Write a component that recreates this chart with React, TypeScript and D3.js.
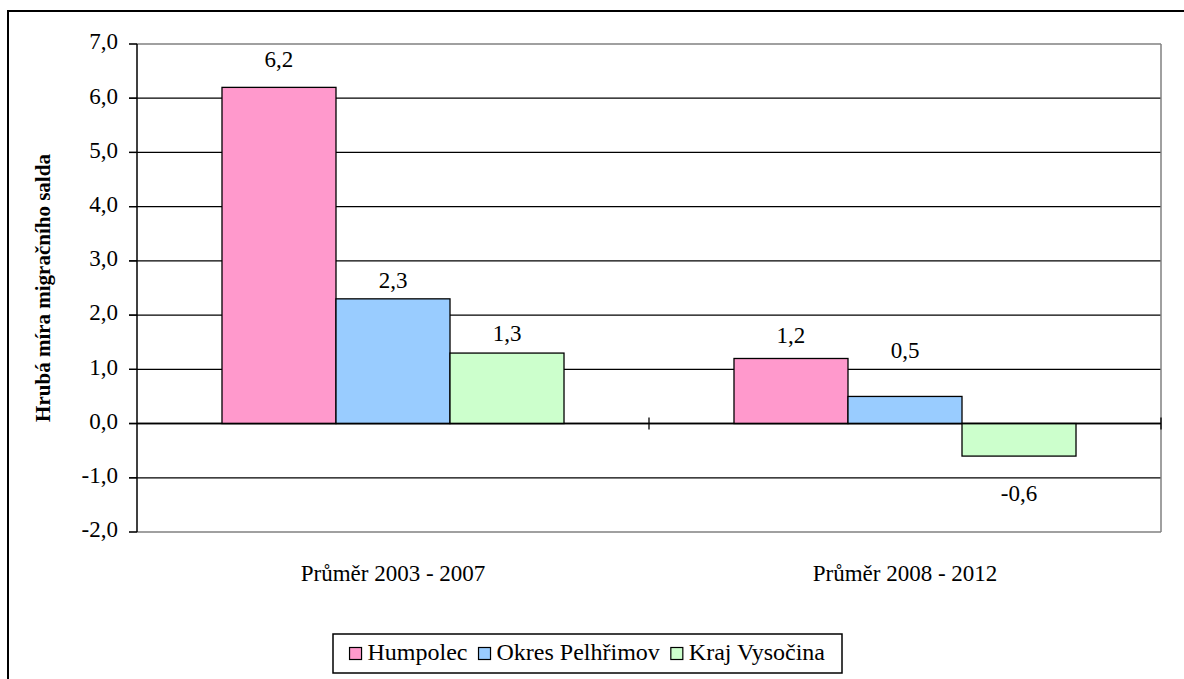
import React from "react";
import * as d3 from "d3";

const categories = ["Průměr 2003 - 2007", "Průměr 2008 - 2012"];
const seriesNames = ["Humpolec", "Okres Pelhřimov", "Kraj Vysočina"];
const humpolec = [6.2, 1.2];
const pelhrimov = [2.3, 0.5];
const vysocina = [1.3, -0.6];
const yTicks = [-2, -1, 0, 1, 2, 3, 4, 5, 6, 7];
const colors = ["#FF99CC", "#99CCFF", "#CCFFCC"];
// label offsets (px from bar end) as positioned in the original
const labelDy = [
  [26, 21],
  [16, 44],
  [17, 40],
];

const FONT = '"Liberation Serif", "Times New Roman", serif';

function measure(text: string, size: number, weight = "normal") {
  const c = document.createElement("canvas").getContext("2d")!;
  c.font = `${weight} ${size}px "Liberation Serif"`;
  return c.measureText(text).width;
}

export default function App() {
  const W = 1184, H = 679;
  const left = 137, right = 1161, top = 44, bottom = 532;
  const series = [humpolec, pelhrimov, vysocina];
  const y = d3.scaleLinear().domain([-2, 7]).range([bottom, top]);
  const x0 = d3.scaleBand<string>().domain(categories).range([left, right]);
  const bw = x0.bandwidth();
  const pad = bw * 0.166;
  const x1 = d3.scaleBand<string>().domain(seriesNames).range([pad, bw - pad]);
  const fmt = (v: number) => d3.format(".1f")(v).replace(".", ",").replace("−", "-");

  const legFont = 24;
  const box = { x: 333, y: 634, w: 509, h: 39 };
  const mk = 12, mkGap = 6, entryGap = 11;
  const widths = seriesNames.map((n) => measure(n, legFont));
  const total = widths.reduce((a, b) => a + b, 0) + seriesNames.length * (mk + mkGap) + (seriesNames.length - 1) * entryGap;
  let cx = box.x + (box.w - total) / 2;
  const legendPos = widths.map((w) => {
    const p = cx;
    cx += mk + mkGap + w + entryGap;
    return p;
  });

  const ts: React.CSSProperties = { fontFamily: FONT };

  return (
    <svg width={W} height={H} style={{ position: "absolute", left: 0, top: 0, background: "#fff", fontFamily: FONT }}>
      <rect x={8} y={11} width={1200} height={700} fill="#fff" stroke="#000" strokeWidth={2} />
      {yTicks.map((t) => (
        <line key={t} x1={left - 8} x2={right} y1={y(t)} y2={y(t)}
          stroke={t === 7 || t === -2 ? "#808080" : "#000"} strokeWidth={t === 0 ? 1.5 : 1.3} />
      ))}
      {yTicks.map((t) => (
        <line key={"tk" + t} x1={left - 8} x2={left} y1={y(t)} y2={y(t)} stroke="#000" strokeWidth={1.3} />
      ))}
      <line x1={right} x2={right} y1={top} y2={bottom} stroke="#808080" strokeWidth={1.5} />
      {categories.map((c, ci) => (
        <g key={c} transform={`translate(${x0(c)},0)`}>
          {series.map((s, si) => {
            const v = s[ci];
            const bx = x1(seriesNames[si])!;
            const y0 = y(Math.max(0, v));
            const h = Math.abs(y(v) - y(0));
            return (
              <g key={si}>
                <rect x={bx} y={y0} width={x1.bandwidth()} height={h} fill={colors[si]} stroke="#000" strokeWidth={1.3} />
                <text style={ts} x={bx + x1.bandwidth() / 2}
                  y={v >= 0 ? y(v) - labelDy[si][ci] : y(v) + labelDy[si][ci]}
                  textAnchor="middle" dominantBaseline="middle" fontSize={23}>{fmt(v)}</text>
              </g>
            );
          })}
        </g>
      ))}
      <line x1={left} x2={right} y1={y(0)} y2={y(0)} stroke="#000" strokeWidth={1.5} />
      {categories.map((c) => x0(c)! + bw).map((xx, i) => (
        <line key={"xt" + i} x1={xx} x2={xx} y1={y(0) - 6} y2={y(0) + 6} stroke="#000" strokeWidth={1.3} />
      ))}
      <line x1={left} x2={left} y1={top} y2={bottom} stroke="#000" strokeWidth={1.5} />
      {yTicks.map((t) => (
        <text style={ts} key={"yl" + t} x={118} y={y(t)} textAnchor="end" dominantBaseline="middle" fontSize={23}>{fmt(t)}</text>
      ))}
      {categories.map((c) => (
        <text style={ts} key={"cl" + c} x={x0(c)! + bw / 2} y={576} textAnchor="middle" dominantBaseline="middle" fontSize={23}>{c}</text>
      ))}
      <text style={ts} transform={`translate(45,${(top + bottom) / 2}) rotate(-90)`} textAnchor="middle" dominantBaseline="middle"
        fontSize={21} fontWeight="bold">Hrubá míra migračního salda</text>
      <rect x={box.x} y={box.y} width={box.w} height={box.h} fill="#fff" stroke="#000" strokeWidth={1.5} />
      {seriesNames.map((n, i) => (
        <g key={n}>
          <rect x={legendPos[i]} y={box.y + box.h / 2 - mk / 2} width={mk} height={mk} fill={colors[i]} stroke="#000" strokeWidth={1.2} />
          <text style={ts} x={legendPos[i] + mk + mkGap} y={box.y + box.h / 2 + 1} dominantBaseline="middle" fontSize={legFont}>{n}</text>
        </g>
      ))}
    </svg>
  );
}
